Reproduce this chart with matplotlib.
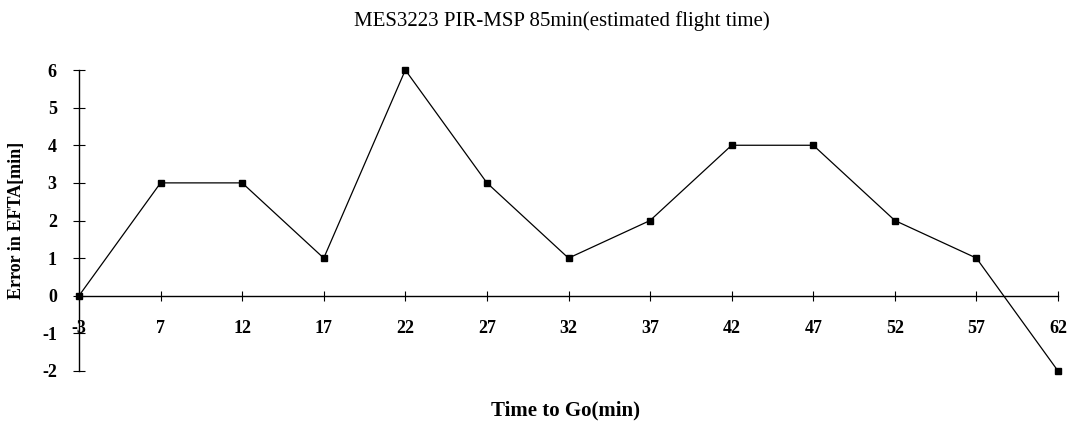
import matplotlib
matplotlib.use("Agg")
import matplotlib.pyplot as plt

times = ["-3", "7", "12", "17", "22", "27", "32", "37", "42", "47", "52", "57", "62"]
errors = [0, 3, 3, 1, 6, 3, 1, 2, 4, 4, 2, 1, -2]
yticks = [-2, -1, 0, 1, 2, 3, 4, 5, 6]

plt.rcParams['font.family'] = ['Liberation Serif', 'DejaVu Serif']

fig = plt.figure(figsize=(10.76, 4.29), dpi=100)
ax = fig.add_axes([0.0734, 0.1352, 0.9099, 0.7016])

for s in ['top', 'right']:
    ax.spines[s].set_visible(False)
# moving the spine resets the ticks, so do it before styling them
ax.spines['bottom'].set_position(('data', 0))
ax.spines['left'].set_linewidth(1.0)
ax.spines['bottom'].set_linewidth(1.0)

x = list(range(len(times)))
ax.plot(x, errors, color='black', lw=0.9, marker='s', markersize=5,
        markerfacecolor='black', markeredgecolor='black', clip_on=False, zorder=3)

ax.set_xlim(0, len(times) - 1)
ax.set_ylim(-2, 6)
ax.set_xticks(x)
ax.set_xticklabels(times, fontsize=13, fontweight='bold')
ax.set_yticks(yticks)
ax.set_yticklabels([str(v) for v in yticks], fontsize=13, fontweight='bold')
ax.tick_params(axis='x', direction='inout', length=7, width=0.8, pad=14)
ax.tick_params(axis='y', direction='inout', length=8, width=0.8, pad=12)

fig.text(0.522, 0.952, "MES3223 PIR-MSP 85min(estimated flight time)",
         ha='center', va='center', fontsize=15)
ax.set_ylabel("Error in EFTA[min]", fontsize=13, fontweight='bold', labelpad=12)
fig.text(0.526, 0.043, "Time to Go(min)", ha='center', va='center',
         fontsize=15, fontweight='bold')

fig.savefig("out.png", dpi=100)
